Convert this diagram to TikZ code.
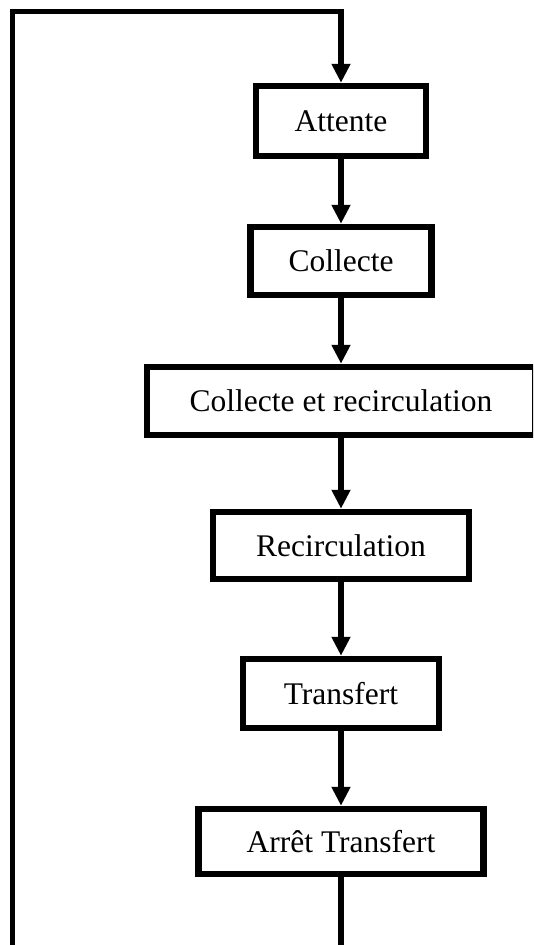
\documentclass[tikz,border=0pt]{standalone}
\usepackage{fontspec}
\setmainfont{Liberation Serif}
\usetikzlibrary{arrows.meta}
\begin{document}
\begin{tikzpicture}[x=1pt,y=-1pt,
  stepbox/.style={draw=black, line width=6.5pt, fill=white, inner sep=0pt,
    line join=miter, font=\fontsize{31.5}{36}\selectfont, align=center},
  flow/.style={line width=6pt, line join=miter,
    -{Triangle[width=18pt,length=19pt]}},
  plain/.style={line width=6pt, line join=miter}]
  \useasboundingbox (0,0) rectangle (533,945);
  \clip (0,0) rectangle (533,945);

  % process stages
  \node[stepbox, minimum width=170pt, minimum height=70pt] (att) at (341,121) {Attente};
  \node[stepbox, minimum width=181pt, minimum height=68pt] (col) at (341,261) {Collecte};
  \node[stepbox, minimum width=388pt, minimum height=68pt] (colrec) at (341,401) {Collecte et recirculation};
  \node[stepbox, minimum width=256pt, minimum height=67pt] (rec) at (341,545.5) {Recirculation};
  \node[stepbox, minimum width=196pt, minimum height=69pt] (tra) at (341,693.5) {Transfert};
  \node[stepbox, minimum width=285pt, minimum height=65pt] (arr) at (341,841.5) {Arrêt Transfert};

  % sequence between stages
  \draw[flow] (att) -- (col);
  \draw[flow] (col) -- (colrec);
  \draw[flow] (colrec) -- (rec);
  \draw[flow] (rec) -- (tra);
  \draw[flow] (tra) -- (arr);

  % return loop back to the waiting stage
  \coordinate (outend) at (341,955);
  \draw[plain] (arr) -- (outend);
  \coordinate (loopbot) at (12.5,955);
  \coordinate (loopcorner) at (12.5,11.5);
  \coordinate (looptop) at (341,11.5);
  \draw[flow, line width=5.5pt] (loopbot) -- (loopcorner) -- (looptop) -- (att);
\end{tikzpicture}
\end{document}
